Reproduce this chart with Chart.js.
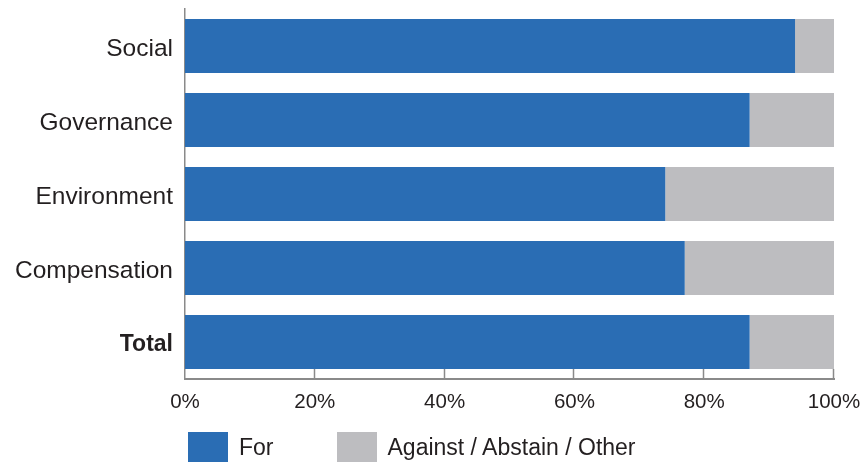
<!DOCTYPE html>
<html>
<head>
<meta charset="utf-8">
<script src="https://cdn.jsdelivr.net/npm/chart.js@4.4.1/dist/chart.umd.min.js"></script>
<style>
  html, body { margin: 0; padding: 0; background: #ffffff; }
  #wrap { position: relative; width: 863px; height: 464px; overflow: hidden; }
  #c { position: absolute; left: 0; top: 0; }
  #legend { position: absolute; left: 188px; top: 432px; height: 30px; display: flex; align-items: center;
            font-family: "Liberation Sans", Arial, sans-serif; font-size: 23px; color: #231F20; }
  .item { display: flex; align-items: center; }
  .box { width: 40px; height: 30px; margin-right: 11px; }
</style>
</head>
<body>
<div id="wrap">
  <canvas id="c" width="863" height="464"></canvas>
  <div id="legend"></div>
</div>
<script>
// ---- data ----
const categories = ["Social", "Governance", "Environment", "Compensation", "Total"];
const forValues = [94, 87, 74, 77, 87];
const otherValues = [6, 13, 26, 23, 13];
const seriesNames = ["For", "Against / Abstain / Other"];
const xTickValues = [0, 20, 40, 60, 80, 100];

const BLUE = "#2A6DB4";
const GREY = "#BDBDC0";
const AXIS = "#8A8A8A";
const TEXT = "#231F20";
const FONT = "'Liberation Sans', Arial, sans-serif";

// short tick marks pointing up from the x axis
const upTicks = {
  id: "upTicks",
  afterDraw(chart) {
    const x = chart.scales.x;
    const ctx = chart.ctx;
    const bottom = chart.chartArea.bottom;
    ctx.save();
    ctx.strokeStyle = AXIS;
    ctx.lineWidth = 1.5;
    xTickValues.forEach(v => {
      if (v === 0) return;
      const px = Math.round(x.getPixelForValue(v)) - 0.5;
      ctx.beginPath();
      ctx.moveTo(px, bottom - 10);
      ctx.lineTo(px, bottom);
      ctx.stroke();
    });
    ctx.restore();
  }
};

const chart = new Chart(document.getElementById("c"), {
  type: "bar",
  data: {
    labels: categories,
    datasets: [
      { label: seriesNames[0], data: forValues, backgroundColor: BLUE, borderWidth: 0,
        barPercentage: 0.73, categoryPercentage: 1 },
      { label: seriesNames[1], data: otherValues, backgroundColor: GREY, borderWidth: 0,
        barPercentage: 0.73, categoryPercentage: 1 }
    ]
  },
  options: {
    indexAxis: "y",
    responsive: false,
    animation: false,
    layout: { padding: { top: 9, right: 29, bottom: 0, left: 0 } },
    plugins: { legend: { display: false }, tooltip: { enabled: false } },
    scales: {
      x: {
        stacked: true,
        min: 0, max: 100,
        afterBuildTicks(scale) { scale.ticks = xTickValues.map(v => ({ value: v })); },
        afterFit(scale) { scale.height = 85; scale.paddingLeft = 0; scale.paddingRight = 0; },
        grid: { display: false, drawTicks: false },
        border: { display: true, color: AXIS, width: 2 },
        ticks: {
          padding: 11,
          color: TEXT,
          font: { family: FONT, size: 20.5 },
          callback: v => v + "%",
          maxRotation: 0
        }
      },
      y: {
        stacked: true,
        afterFit(scale) { scale.width = 185; scale.paddingTop = 0; scale.paddingBottom = 0; },
        grid: { display: false, drawTicks: false },
        border: { display: true, color: AXIS, width: 1.5 },
        ticks: {
          padding: 12,
          labelOffset: 3,
          color: TEXT,
          font: ctx => {
            const lbl = categories[ctx.index];
            return lbl === "Total"
              ? { family: FONT, size: 23, weight: "bold" }
              : { family: FONT, size: 24.5, weight: "normal" };
          }
        }
      }
    }
  },
  plugins: [upTicks]
});

// HTML legend built from the chart's datasets
const legendEl = document.getElementById("legend");
chart.data.datasets.forEach((ds, i) => {
  const item = document.createElement("div");
  item.className = "item";
  if (i > 0) item.style.marginLeft = "63px";
  const box = document.createElement("span");
  box.className = "box";
  box.style.background = ds.backgroundColor;
  const txt = document.createElement("span");
  txt.textContent = ds.label;
  item.appendChild(box);
  item.appendChild(txt);
  legendEl.appendChild(item);
});
</script>
</body>
</html>
